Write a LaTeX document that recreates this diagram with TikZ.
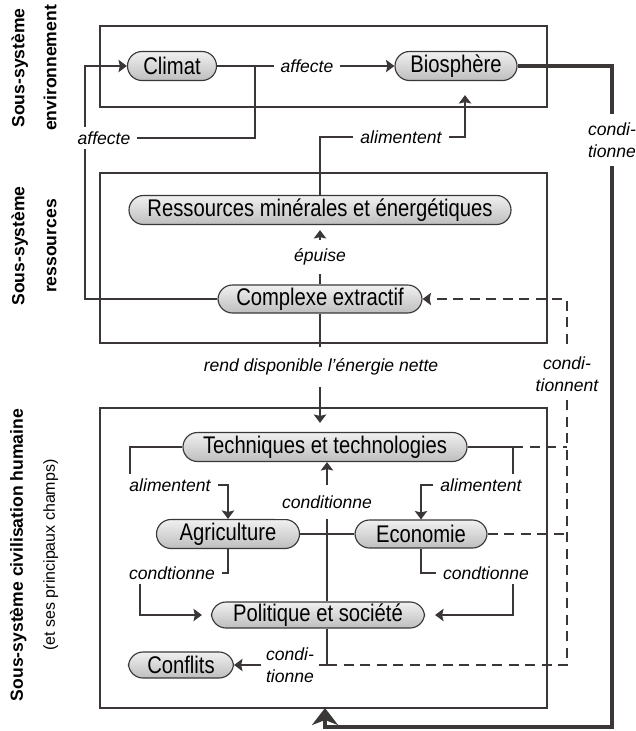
\documentclass[tikz,border=0pt]{standalone}
\usepackage{fontspec}
\setmainfont{Liberation Sans}
\newfontfamily\narrowfont{Liberation Sans}[FakeStretch=0.84]
\usetikzlibrary{arrows.meta,calc}
\definecolor{line_gray}{RGB}{60,55,55}
\definecolor{fill_top}{RGB}{240,240,240}
\definecolor{fill_bot}{RGB}{190,190,190}

\begin{document}
\begin{tikzpicture}[x=0.2mm,y=-0.2mm,>={Stealth[length=1.7mm,width=2.5mm,inset=0.3mm]}]
    \tikzstyle{sys}=[draw=line_gray, line width=0.65pt, rectangle, rounded corners=2.9mm, minimum height=5.8mm, inner sep=0pt, top color=fill_top, bottom color=fill_bot, text=black, font=\narrowfont\fontsize{13.7}{16}\selectfont]
    \tikzstyle{lbl}=[fill=white, inner xsep=1.4mm, inner ysep=1mm, align=center, font=\itshape\fontsize{10}{12.8}\selectfont]
    \tikzstyle{side}=[rotate=90, align=center, font=\bfseries\fontsize{10}{18.2}\selectfont]
    \tikzstyle{box}=[draw=line_gray, line width=0.85pt]
    \tikzstyle{link}=[draw=line_gray, line width=0.65pt]
    \tikzstyle{cond}=[link, dash pattern=on 2mm off 1.3mm]
    \tikzstyle{heavy}=[draw=line_gray, line width=1.9pt, -{Stealth[length=3.4mm,width=5.2mm,inset=1mm]}]

    \useasboundingbox (0,0) rectangle (636,731);

    % sous-systemes
    \draw[box] (100,26) rectangle (547,107);
    \draw[box] (100,173) rectangle (547,343);
    \draw[box] (100,408) rectangle (547,708);
    \node[side] (s1) at (34,68) {Sous-système\\environnement};
    \node[side] (s2) at (34,246) {Sous-système\\ressources};
    \node[side] (s3) at (34,555) {Sous-système civilisation humaine\\{\mdseries\fontsize{9.1}{18.2}\selectfont(et ses principaux champs)}};

    \node[sys, minimum width=17.8mm] (clim) at (172,66)  {Climat};
    \node[sys, minimum width=24.4mm] (bio)  at (456,66)  {Biosphère};
    \node[sys, minimum width=76.4mm] (res)  at (320,210) {Ressources minérales et énergétiques};
    \node[sys, minimum width=40.8mm, minimum height=5.6mm] (cx) at (320,299) {Complexe extractif};
    \node[sys, minimum width=56.8mm] (tech) at (325,447) {Techniques et technologies};
    \node[sys, minimum width=28.6mm] (agr)  at (228,534) {Agriculture};
    \node[sys, minimum width=26.4mm, minimum height=5.6mm] (eco) at (421,534) {Economie};
    \node[sys, minimum width=42.6mm, minimum height=5.2mm] (pol) at (318,615) {Politique et société};
    \node[sys, minimum width=21mm, minimum height=5.2mm] (conf) at (181,665) {Conflits};

    \coordinate (j1) at (255,66);
    \coordinate (a1) at (307,66);
    \coordinate (a2) at (104,138);
    \coordinate (a3) at (401,137);
    \coordinate (e1) at (320,257);
    \coordinate (r1) at (321,367);
    \coordinate (c1) at (612,140);
    \coordinate (c2) at (567,374);
    \coordinate (a4) at (170,485);
    \coordinate (a5) at (481,485);
    \coordinate (c3) at (327,502);
    \coordinate (c4) at (172,573);
    \coordinate (c5) at (486,573);
    \coordinate (c6) at (290,665);
    \coordinate (bx) at (325,708);

    \draw[link,->] (clim) -- (bio);
    \draw[link] (j1) |- (a2);
    \draw[link,->] (cx.west) -- (85,299) |- (clim.west);
    \draw[link,->,shorten >=2.8mm] (res.north) |- (a3) -| ($(bio.south)+(9,0)$);
    \draw[link,->,shorten >=1mm] (cx.north) -- (res.south);
    \draw[link,->,shorten >=1.8mm] (cx.south) -- (cx.south |- tech.north);
    \draw[heavy] (bio.east) -| (c1) |- ($(bx)+(0,19)$) -- (bx);

    \draw[link,->] (tech.west) -| (130,485) -| (agr.north);
    \draw[link,->] (tech.east) -| (513,485) -| (eco.north);
    \draw[cond] (513,447) -- (tech.east -| c2);
    \draw[cond] (eco.east) -- (eco.east -| c2);
    \draw[link] (agr) -- (eco);
    \draw[link,->] (c3 |- pol.north) -- (c3 |- tech.south);
    \draw[link,->,shorten >=1.8mm] (agr.south) |- (140,573) |- (pol.west);
    \draw[link,->,shorten >=2mm] (eco.south) |- (513,573) |- (pol.east);
    \draw[link,->] (c3 |- pol.south) |- (conf.east);
    \draw[cond,->] (c3 |- conf.east) -| (c2) |- (cx.east);

    \node[lbl] at (a1) {affecte};
    \node[lbl] at (a2) {affecte};
    \node[lbl] at (a3) {alimentent};
    \node[lbl, inner ysep=1.8mm] at (e1) {épuise};
    \node[lbl, inner ysep=2.3mm] at (r1) {rend disponible l'énergie nette};
    \node[lbl, inner ysep=1.6mm] at (c1) {condi-\\tionne};
    \node[lbl, inner ysep=1.5mm] at (c2) {condi-\\tionnent};
    \node[lbl] at (a4) {alimentent};
    \node[lbl] at (a5) {alimentent};
    \node[lbl, inner ysep=2.2mm] at (c3) {conditionne};
    \node[lbl] at (c4) {condtionne};
    \node[lbl] at (c5) {condtionne};
    \node[lbl, inner xsep=1mm] at (c6) {condi-\\tionne};
\end{tikzpicture}
\end{document}
